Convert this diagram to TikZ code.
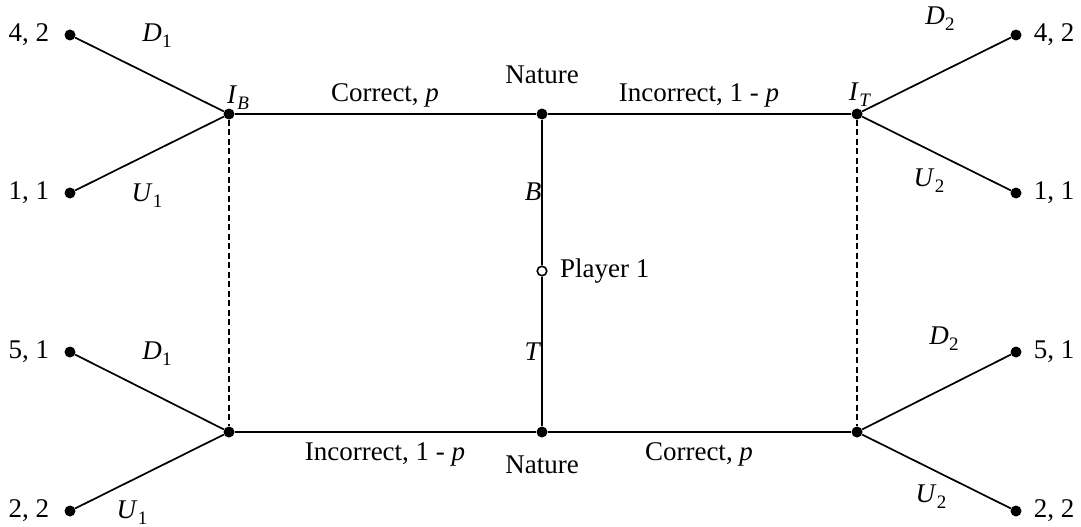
\documentclass[tikz,border=0pt]{standalone}
\usepackage{fontspec}
\setmainfont{Liberation Serif}
\newcommand\vsub[2]{\textit{#1}\kern0.3pt\raisebox{-0.22em}{\fontsize{19}{19}\selectfont #2}}
\begin{document}
\begin{tikzpicture}[x=1pt,y=-1pt,
  dot/.style={circle,fill=black,inner sep=0pt,minimum size=11pt},
  odot/.style={circle,draw=black,fill=white,line width=1.6pt,inner sep=0pt,minimum size=9.5pt},
  edge/.style={line width=1.7pt},
  info/.style={line width=1.7pt,dash pattern=on 6pt off 3.5pt},
  lbl/.style={font=\fontsize{27}{32}\selectfont,inner sep=0pt}]
\useasboundingbox (0,0) rectangle (1081,527);
% decision and chance nodes
\node[dot] (ib) at (229,114) {};
\node[dot] (nt) at (542,114) {};
\node[dot] (it) at (857,114) {};
\node[dot] (bl) at (229,432) {};
\node[dot] (nb) at (542,432) {};
\node[dot] (br) at (857,432) {};
\node[odot] (p1) at (542,271) {};
% terminals
\node[dot] (l1) at (70,35) {};
\node[dot] (l2) at (70,193) {};
\node[dot] (l3) at (70,352) {};
\node[dot] (l4) at (70,511) {};
\node[dot] (r1) at (1016,35) {};
\node[dot] (r2) at (1016,193) {};
\node[dot] (r3) at (1016,352) {};
\node[dot] (r4) at (1016,511) {};
% edges
\draw[edge] (ib) -- (nt);
\draw[edge] (nt) -- (it);
\draw[edge] (bl) -- (nb);
\draw[edge] (nb) -- (br);
\draw[edge] (nt) -- (p1);
\draw[edge] (p1) -- (nb);
\draw[edge] (ib) -- (l1);
\draw[edge] (ib) -- (l2);
\draw[edge] (bl) -- (l3);
\draw[edge] (bl) -- (l4);
\draw[edge] (it) -- (r1);
\draw[edge] (it) -- (r2);
\draw[edge] (br) -- (r3);
\draw[edge] (br) -- (r4);
\draw[info] (ib) -- (bl);
\draw[info] (it) -- (br);
% payoffs
\node[lbl] (pl1) at (29,35) {4, 2};
\node[lbl] (pl2) at (29,193) {1, 1};
\node[lbl] (pl3) at (29,352) {5, 1};
\node[lbl] (pl4) at (29,511) {2, 2};
\node[lbl] (pr1) at (1054,35) {4, 2};
\node[lbl] (pr2) at (1054,193) {1, 1};
\node[lbl] (pr3) at (1054,352) {5, 1};
\node[lbl] (pr4) at (1054,511) {2, 2};
% action labels
\node[lbl] (a1) at (157,36) {\vsub{D}{1}};
\node[lbl] (a2) at (147,196) {\vsub{U}{1}};
\node[lbl] (a3) at (157,354) {\vsub{D}{1}};
\node[lbl] (a4) at (132,513) {\vsub{U}{1}};
\node[lbl] (a5) at (940,19) {\vsub{D}{2}};
\node[lbl] (a6) at (929,181) {\vsub{U}{2}};
\node[lbl] (a7) at (944,339) {\vsub{D}{2}};
\node[lbl] (a8) at (931,497) {\vsub{U}{2}};
% information set labels
\node[lbl] (lib) at (238,98) {\vsub{I}{\textit{B}}};
\node[lbl] (lit) at (860,95) {\vsub{I}{\textit{T}}};
% nature branches
\node[lbl] (c1) at (385,95) {Correct, \textit{p}};
\node[lbl] (nat1) at (542,75) {Nature};
\node[lbl] (c2) at (699,95) {Incorrect, 1 - \textit{p}};
\node[lbl] (c3) at (385,454) {Incorrect, 1 - \textit{p}};
\node[lbl] (nat2) at (542,465) {Nature};
\node[lbl] (c4) at (699,454) {Correct, \textit{p}};
% player 1 moves
\node[lbl] (mb) at (533,192) {\textit{B}};
\node[lbl] (mt) at (533,352) {\textit{T}};
\node[lbl,anchor=west] (pn) at (560,271) {Player 1};
\end{tikzpicture}
\end{document}
